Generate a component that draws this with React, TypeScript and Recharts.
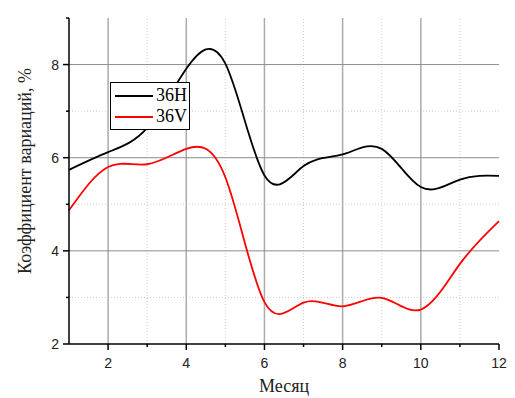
import React from "react";
import { LineChart, Line, XAxis, YAxis, ReferenceLine, Legend } from "recharts";

const MONTHS = [1, 2, 3, 4, 5, 6, 7, 8, 9, 10, 11, 12];
const SERIES_36H = [5.74, 6.12, 6.64, 7.91, 8.02, 5.62, 5.82, 6.07, 6.19, 5.37, 5.53, 5.61];
const SERIES_36V = [4.87, 5.8, 5.86, 6.19, 5.58, 2.9, 2.89, 2.81, 2.99, 2.74, 3.72, 4.64];

const X_TICKS = [1, 2, 3, 4, 5, 6, 7, 8, 9, 10, 11, 12];
const X_MAJOR = [2, 4, 6, 8, 10, 12];
const Y_TICKS = [2, 3, 4, 5, 6, 7, 8, 9];
const Y_MAJOR = [2, 4, 6, 8];

const GRID_X_MAJOR = [2, 4, 6, 8, 10];
const GRID_X_MINOR = [3, 5, 7, 9, 11];
const GRID_Y_MAJOR = [4, 6, 8];
const GRID_Y_MINOR = [3, 5, 7];

const data = MONTHS.map((m, i) => ({ month: m, h: SERIES_36H[i], v: SERIES_36V[i] }));

const TICK_FONT = "'Liberation Sans', Arial, sans-serif";
const TITLE_FONT = "'Liberation Serif', 'Times New Roman', serif";

function YTick({ x, y, payload }: any) {
  const major = Y_MAJOR.includes(payload.value);
  return (
    <g>
      <line x1={x - (major ? 6 : 3)} x2={x} y1={y} y2={y} stroke="#000" strokeWidth={1.5} />
      {major && (
        <text x={x - 10} y={y} dy={5} textAnchor="end" fontSize={14} fill="#222" fontFamily={TICK_FONT}>
          {payload.value}
        </text>
      )}
    </g>
  );
}

function XTick({ x, y, payload }: any) {
  const major = X_MAJOR.includes(payload.value);
  if (payload.value === 1) return <g />;
  return (
    <g>
      <line x1={x} x2={x} y1={y} y2={y + (major ? 6 : 3)} stroke="#000" strokeWidth={1.5} />
      {major && (
        <text x={x} y={y + 24} textAnchor="middle" fontSize={14} fill="#222" fontFamily={TICK_FONT}>
          {payload.value}
        </text>
      )}
    </g>
  );
}

function LegendBox() {
  const items = [
    { name: "36H", color: "#000" },
    { name: "36V", color: "#ff0000" },
  ];
  return (
    <div style={{ border: "1px solid #000", background: "#fff", padding: "2px 2px 2px 4px", width: 72 }}>
      {items.map((it) => (
        <div key={it.name} style={{ display: "flex", alignItems: "center", height: 21 }}>
          <svg width={40} height={4}>
            <line x1={0} x2={38} y1={2} y2={2} stroke={it.color} strokeWidth={2} />
          </svg>
          <span style={{ fontFamily: TITLE_FONT, fontSize: 18, color: "#000", marginLeft: 2 }}>{it.name}</span>
        </div>
      ))}
    </div>
  );
}

export default function App() {
  return (
    <div style={{ position: "absolute", left: 0, top: 0, background: "#fff" }}>
      <LineChart width={515} height={398} data={data} margin={{ top: 18, right: 16, bottom: 0, left: 0 }}>
        {GRID_X_MINOR.map((v) => (
          <ReferenceLine key={"xm" + v} x={v} stroke="#cfcfcf" strokeDasharray="1 2" />
        ))}
        {GRID_Y_MINOR.map((v) => (
          <ReferenceLine key={"ym" + v} y={v} stroke="#cfcfcf" strokeDasharray="1 2" />
        ))}
        {GRID_X_MAJOR.map((v) => (
          <ReferenceLine key={"xM" + v} x={v} stroke="#ababab" strokeWidth={1.5} />
        ))}
        {GRID_Y_MAJOR.map((v) => (
          <ReferenceLine key={"yM" + v} y={v} stroke="#8c8c8c" strokeWidth={1} />
        ))}
        <XAxis
          dataKey="month"
          type="number"
          domain={[1, 12]}
          ticks={X_TICKS}
          interval={0}
          height={54}
          tickSize={0}
          tickMargin={0}
          tick={<XTick />}
          axisLine={{ stroke: "#000", strokeWidth: 1.5 }}
          label={{ value: "Месяц", position: "insideBottom", offset: 6, fontSize: 18, fill: "#222", fontFamily: TITLE_FONT }}
        />
        <YAxis
          type="number"
          domain={[2, 9]}
          ticks={Y_TICKS}
          interval={0}
          width={69}
          tickSize={0}
          tickMargin={0}
          tick={<YTick />}
          axisLine={{ stroke: "#000", strokeWidth: 1.5 }}
          label={{
            value: "Коэффициент вариаций, %",
            angle: -90,
            position: "center",
            dx: -10,
            dy: -10,
            fontSize: 18,
            fill: "#222",
            fontFamily: TITLE_FONT,
          }}
        />
        <Legend
          layout="horizontal"
          verticalAlign="middle"
          align="center"
          content={<LegendBox />}
          wrapperStyle={{ position: "absolute", left: 110, top: 82, width: "auto" }}
        />
        <Line type="natural" dataKey="h" name="36H" stroke="#000" strokeWidth={1.8} dot={false} isAnimationActive={false} />
        <Line type="natural" dataKey="v" name="36V" stroke="#ff0000" strokeWidth={1.8} dot={false} isAnimationActive={false} />
      </LineChart>
    </div>
  );
}
